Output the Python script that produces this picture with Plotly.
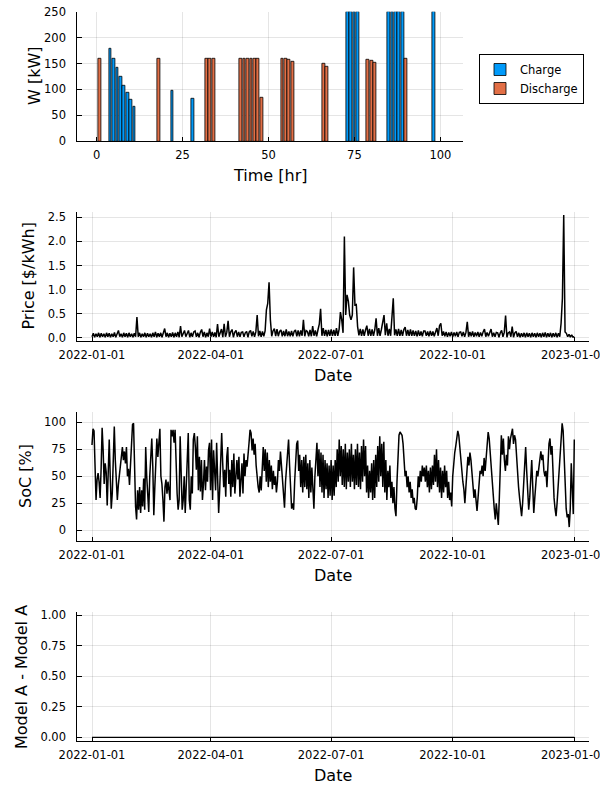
import numpy as np
import pandas as pd
import plotly.graph_objects as go

# ---------------- data ----------------
charge_hours = [4, 5, 6, 7, 8, 9, 10, 11, 22, 28, 73, 74, 75, 76, 85, 86, 87, 88, 89, 98]
charge_kw = [178, 160, 142, 124, 108, 93, 80, 67, 97, 83, 250, 250, 250, 250, 250, 250, 250, 250, 250, 250]

discharge_hours = [1, 18, 32, 33, 34, 42, 43, 44, 45, 46, 47, 48, 54, 55, 56, 57, 66, 67, 79, 80, 81, 90]
discharge_kw = [160, 160, 160, 160, 160, 160, 160, 160, 160, 160, 160, 85, 160, 159, 157, 154, 150, 144, 158, 155, 152, 160]

# daily price [$/kWh], 2022-01-01 .. 2023-01-01
price_jan = [0.02,0.09,0.01,0.08,0.02,0.1,0.01,0.09,0.02,0.08,0.01,0.1,0.02,0.09,0.01,0.08,0.02,0.11,0.01,0.09,0.15,0.02,0.08,0.01,0.1,0.02,0.09,0.01,0.1,0.02,0.08]
price_feb = [0.01,0.09,0.02,0.43,0.02,0.1,0.01,0.08,0.02,0.1,0.01,0.09,0.02,0.08,0.01,0.1,0.02,0.12,0.01,0.09,0.02,0.1,0.01,0.08,0.19,0.02,0.1,0.01]
price_mar = [0.09,0.02,0.11,0.01,0.1,0.02,0.12,0.01,0.24,0.02,0.1,0.15,0.02,0.11,0.15,0.01,0.1,0.02,0.12,0.14,0.02,0.1,0.01,0.11,0.17,0.02,0.12,0.01,0.1,0.02,0.19]
price_apr = [0.02,0.12,0.02,0.11,0.01,0.28,0.02,0.12,0.18,0.01,0.29,0.02,0.11,0.35,0.02,0.12,0.17,0.01,0.11,0.15,0.02,0.12,0.02,0.11,0.12,0.02,0.1,0.13,0.01,0.12]
price_may = [0.15,0.03,0.13,0.02,0.12,0.47,0.03,0.14,0.02,0.13,0.03,0.14,0.58,0.71,1.15,0.37,0.03,0.14,0.19,0.03,0.18,0.03,0.13,0.16,0.03,0.14,0.03,0.17,0.03,0.13,0.03]
price_jun = [0.14,0.03,0.13,0.16,0.03,0.15,0.03,0.15,0.04,0.37,0.03,0.15,0.13,0.03,0.16,0.03,0.24,0.04,0.15,0.03,0.16,0.28,0.6,0.04,0.2,0.04,0.16,0.03,0.16,0.04]
price_jul = [0.17,0.04,0.16,0.04,0.2,0.04,0.17,0.53,0.37,0.1,2.1,0.47,0.89,0.76,0.47,0.37,0.47,1.46,0.68,0.69,0.23,0.05,0.18,0.04,0.17,0.04,0.16,0.25,0.04,0.18,0.04]
price_aug = [0.17,0.04,0.16,0.4,0.04,0.2,0.04,0.17,0.33,0.47,0.05,0.3,0.04,0.18,0.04,0.37,0.82,0.05,0.17,0.04,0.18,0.04,0.16,0.04,0.17,0.22,0.04,0.16,0.04,0.17,0.04]
price_sep = [0.15,0.04,0.14,0.03,0.15,0.04,0.13,0.03,0.14,0.14,0.04,0.13,0.03,0.14,0.04,0.13,0.03,0.14,0.2,0.04,0.25,0.3,0.04,0.13,0.03,0.12,0.02,0.11,0.03,0.12]
price_oct = [0.02,0.11,0.03,0.12,0.02,0.11,0.12,0.03,0.12,0.02,0.11,0.33,0.02,0.12,0.03,0.13,0.02,0.11,0.03,0.12,0.02,0.11,0.03,0.12,0.18,0.02,0.11,0.03,0.12,0.18,0.02]
price_nov = [0.1,0.02,0.11,0.1,0.01,0.1,0.15,0.02,0.11,0.46,0.01,0.1,0.12,0.02,0.23,0.01,0.1,0.13,0.02,0.1,0.01,0.09,0.02,0.1,0.01,0.1,0.02,0.09,0.01,0.1]
price_dec = [0.02,0.09,0.01,0.1,0.02,0.09,0.01,0.1,0.02,0.11,0.01,0.09,0.02,0.1,0.01,0.09,0.02,0.1,0.01,0.09,0.02,0.3,0.82,2.55,0.12,0.09,0.02,0.07,0.01,0.06,0.01,0.02]

# state of charge [%], evenly spaced over the year
soc_part1 = [79,94,92,53,28,47,53,45,30,57,95,74,43,62,54,23,71,84,50,20,34,71,96,65,37,28,42,50,57,64,77,65,73,62,77,50,57,42,59,81,
             98,99,50,22,10,37,19,40,16,37,22,48,19,77,50,34,17,50,65,85,59,14,40,74,85,68,88,94,50,43,28,8,40,47,34,45,37,28,93,87,
             93,81,93,53,34,19,28,87,37,19,28,50,16,40,62,90,28,19,50,34,84,90,77,56,87,37,68,36,65,28,43,65,37,59,45,74,81,37,84,28,
             74,56,37,81,50,16,37,71,90,62,40,56,31,68,77,43,56,31,65,40,71,34,50,65,47,68,31,50,62,34,71,50,65,59,68,81,93,90,74]
soc_part2 = [85,70,80,60,45,40,35,50,37,60,77,55,75,45,72,40,65,45,60,38,55,42,50,35,45,65,55,73,60,40,25,21,45,60,75,84,60,35,20,25,
             19,45,65,80,83,55,70,40,65,35,68,40,70,38,62,30,65,35,58,30,20,50,72,81,50,75,40,72,35,70,30,65,38,62,30,60,32,65,28,60,
             32,65,40,75,45,84,50,78,42,75,40,80,38,72,45,75,40,80,45,70,38,75,42,80,40,72,38,78,45,84,50,78,35,60,30,55,35,62,28,65,
             30,70,40,78,45,87,50,80,40,82,35,65,28,55,40,60,30,45,25,40,20,13,45,75,88,91,90,88,80,60,50,55,40,50,35,45,30,38,25,30,
             20,19,30,50,40,55,45,60,50,58]
soc_part3 = [45,60,40,55,35,58,38,60,42,70,45,75,40,65,35,58,30,55,35,60,40,55,30,45,28,35,22,50,65,72,78,85,92,88,75,65,55,45,38,25,
             40,55,68,60,72,65,50,40,30,38,25,18,30,45,55,52,60,50,67,55,70,82,91,85,70,60,50,35,20,10,25,15,5,30,60,88,70,85,65,55,
             70,60,87,75,85,90,94,80,88,84,65,55,40,30,20,13,25,40,60,77,55,35,19,30,50,65,40,16,30,45,55,50,60,68,73,65,70,55,50,55,
             40,60,80,85,70,78,45,30,20,13,25,40,55,70,90,99,92,70,35,20,12,15,3,20,62,30,15,84]

date_ticks = ["2022-01-01", "2022-04-01", "2022-07-01", "2022-10-01", "2023-01-01"]

price = (price_jan + price_feb + price_mar + price_apr + price_may + price_jun +
         price_jul + price_aug + price_sep + price_oct + price_nov + price_dec)
price_dates = pd.date_range("2022-01-01", periods=len(price), freq="D")

soc = np.array(soc_part1 + soc_part2 + soc_part3, dtype=float)
soc_dates = pd.date_range("2022-01-01", "2023-01-01", periods=len(soc))
diff = soc - soc  # Model A - Model A

# ---------------- figure ----------------
W, H = 600, 800
FONT = "DejaVu Sans"
TICK = 11.5
GUIDE = 16
GRID = "rgba(0,0,0,0.1)"

def px_x(p):
    return p / W

def px_y(p):
    return 1 - p / H

fig = go.Figure()
fig.add_trace(go.Bar(x=charge_hours, y=charge_kw, width=0.8, name="Charge",
                     marker=dict(color="#009AFA", line=dict(color="black", width=0.8)),
                     xaxis="x", yaxis="y"))
fig.add_trace(go.Bar(x=discharge_hours, y=discharge_kw, width=0.8, name="Discharge",
                     marker=dict(color="#E26F46", line=dict(color="black", width=0.8)),
                     xaxis="x", yaxis="y"))
fig.add_trace(go.Scatter(x=price_dates, y=price, mode="lines", line=dict(color="black", width=1.5),
                         showlegend=False, xaxis="x2", yaxis="y2"))
fig.add_trace(go.Scatter(x=soc_dates, y=soc, mode="lines", line=dict(color="black", width=1.5),
                         showlegend=False, xaxis="x3", yaxis="y3"))
fig.add_trace(go.Scatter(x=soc_dates, y=diff, mode="lines", line=dict(color="black", width=1.2),
                         showlegend=False, xaxis="x4", yaxis="y4"))

common = dict(showline=True, linecolor="black", linewidth=1, mirror=False,
              ticks="inside", ticklen=4.5, tickcolor="black", tickwidth=0.8,
              showgrid=True, gridcolor=GRID, gridwidth=0.6, zeroline=False,
              tickfont=dict(family=FONT, size=TICK, color="black"),
              ticklabeloverflow="allow", automargin=False)

left, right_small, right_full = px_x(77.3), px_x(462.7), px_x(589)
doms = [(11.7, 141.3), (211.7, 341.0), (411.7, 541.0), (611.7, 741.0)]
ydom = [[px_y(b), px_y(t)] for t, b in doms]

date_range = ["2021-12-20 21:00", "2023-01-12 03:00"]

fig.update_layout(
    width=W, height=H, margin=dict(l=0, r=0, t=0, b=0),
    paper_bgcolor="white", plot_bgcolor="white",
    barmode="overlay", bargap=0,
    font=dict(family=FONT, color="black"),
    xaxis=dict(domain=[left, right_small], anchor="y", range=[-5.6, 106.5],
               tickvals=[0, 25, 50, 75, 100], ticklabelstandoff=3, **common),
    yaxis=dict(domain=ydom[0], anchor="x", range=[0, 250],
               tickvals=[0, 50, 100, 150, 200, 250], ticklabelstandoff=8, **common),
    xaxis2=dict(domain=[left, right_full], anchor="y2", type="date", range=date_range,
                tickvals=date_ticks, tickformat="%Y-%m-%d", ticklabelstandoff=3, **common),
    yaxis2=dict(domain=ydom[1], anchor="x2", range=[-0.069, 2.617],
                tickvals=[0, 0.5, 1, 1.5, 2, 2.5], tickformat=".1f", ticklabelstandoff=8, **common),
    xaxis3=dict(domain=[left, right_full], anchor="y3", type="date", range=date_range,
                tickvals=date_ticks, tickformat="%Y-%m-%d", ticklabelstandoff=3, **common),
    yaxis3=dict(domain=ydom[2], anchor="x3", range=[-9.9, 109.8],
                tickvals=[0, 25, 50, 75, 100], ticklabelstandoff=8, **common),
    xaxis4=dict(domain=[left, right_full], anchor="y4", type="date", range=date_range,
                tickvals=date_ticks, tickformat="%Y-%m-%d", ticklabelstandoff=3, **common),
    yaxis4=dict(domain=ydom[3], anchor="x4", range=[-0.03, 1.03],
                tickvals=[0, 0.25, 0.5, 0.75, 1.0], tickformat=".2f", ticklabelstandoff=8, **common),
    legend=dict(x=px_x(479), y=px_y(54), xanchor="left", yanchor="top",
                bordercolor="black", borderwidth=1, bgcolor="white",
                font=dict(family=FONT, size=TICK, color="black"),
                itemwidth=30, tracegroupgap=0),
)

titles = [
    ("W [kW]", 35, 76, -90),
    ("Time [hr]", 270, 175, 0),
    ("Price [$/kWh]", 27.5, 276, -90),
    ("Date", 333, 375, 0),
    ("SoC [%]", 25, 476, -90),
    ("Date", 333, 575, 0),
    ("Model A - Model A", 21, 677, -90),
    ("Date", 333, 775, 0),
]
for text, x, y, ang in titles:
    fig.add_annotation(text=text, x=px_x(x), y=px_y(y), xref="paper", yref="paper",
                       showarrow=False, textangle=ang, xanchor="center", yanchor="middle",
                       font=dict(family=FONT, size=GUIDE, color="black"))

fig.write_html("out.html", config={"displayModeBar": False},
               post_script="document.body.style.margin='0px';")
